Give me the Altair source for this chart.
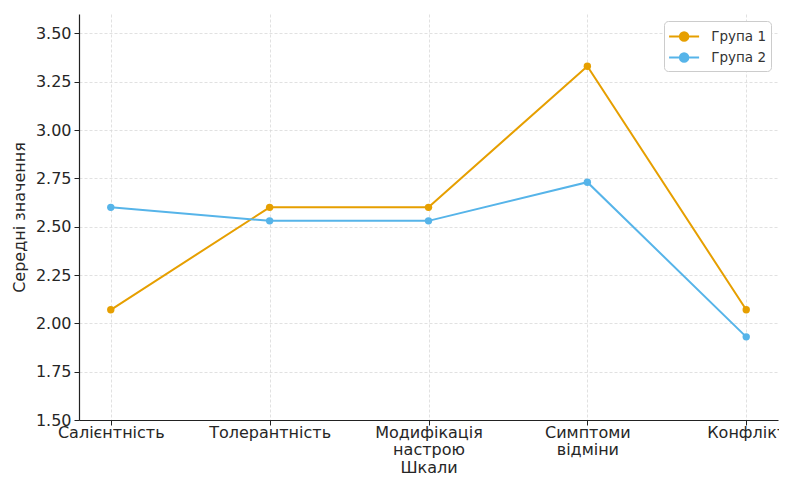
import altair as alt
import pandas as pd

categories = ["Салієнтність", "Толерантність", "Модифікація\nнастрою", "Симптоми\nвідміни", "Конфлікт"]
group1 = [2.07, 2.60, 2.60, 3.33, 2.07]
group2 = [2.60, 2.53, 2.53, 2.73, 1.93]
series_names = ["Група 1", "Група 2"]
colors = ["#E69F00", "#56B4E9"]
y_ticks = [1.5, 1.75, 2.0, 2.25, 2.5, 2.75, 3.0, 3.25, 3.5]

rows = []
for name, vals in zip(series_names, [group1, group2]):
    for c, v in zip(categories, vals):
        rows.append({"Шкала": c, "Значення": v, "Група": name})
df = pd.DataFrame(rows)

FONT = "DejaVu Sans"
TXT = "#262626"

x_enc = alt.X("Шкала:N", sort=categories, title="Шкали",
              scale=alt.Scale(type="point", padding=0.2),
              axis=alt.Axis(labelExpr="split(datum.label, '\\n')", labelAngle=0,
                            labelFontSize=16, titleFontSize=16, labelColor=TXT,
                            titleColor=TXT, labelPadding=-1, tickSize=5,
                            labelLineHeight=17.5, labelBaseline="top",
                            titleY=52.5, titleBaseline="alphabetic"))
y_enc = alt.Y("Значення:Q", title="Середні значення",
              scale=alt.Scale(domain=[1.5, 3.6], nice=False, zero=False),
              axis=alt.Axis(values=y_ticks, format=".2f", labelFontSize=16,
                            titleFontSize=16, labelColor=TXT, titleColor=TXT,
                            tickSize=5, labelPadding=3, titlePadding=8))
color_enc = alt.Color("Група:N", sort=series_names,
                      scale=alt.Scale(domain=series_names, range=colors),
                      legend=alt.Legend(title=None, orient="top-right", offset=7,
                                        symbolType="M-1.6,0 L1.6,0 M0.45,0 A0.45,0.45 0 1,0 -0.45,0 A0.45,0.45 0 1,0 0.45,0 Z",
                                        symbolSize=352, symbolStrokeWidth=2,
                                        symbolOffset=4.6, labelOffset=16.6,
                                        labelFontSize=13.5, labelColor="#333",
                                        strokeColor="#cccccc", cornerRadius=4,
                                        padding=5, rowPadding=2, fillColor="white"))

lines = alt.Chart(df).mark_line(strokeWidth=2).encode(x=x_enc, y=y_enc, color=color_enc)
points = alt.Chart(df).mark_point(filled=True, size=55, opacity=1).encode(
    x=x_enc, y=y_enc, color=color_enc)

chart = alt.layer(lines, points).properties(
    width=699, height=406,
    autosize=alt.AutoSizeParams(type="none"),
    padding={"left": 71, "top": 6, "right": 1, "bottom": 57},
).configure_axis(
    labelFont=FONT, titleFont=FONT, titleFontWeight="normal",
    domainColor="#222", tickColor="#222",
    gridColor="#d9d9d9", gridDash=[3, 2], gridWidth=0.8, domainWidth=1.2,
).configure_axisX(grid=True).configure_legend(labelFont=FONT).configure_view(
    stroke=None
)

chart.save("out.html", embed_options={"renderer": "svg", "actions": False})
